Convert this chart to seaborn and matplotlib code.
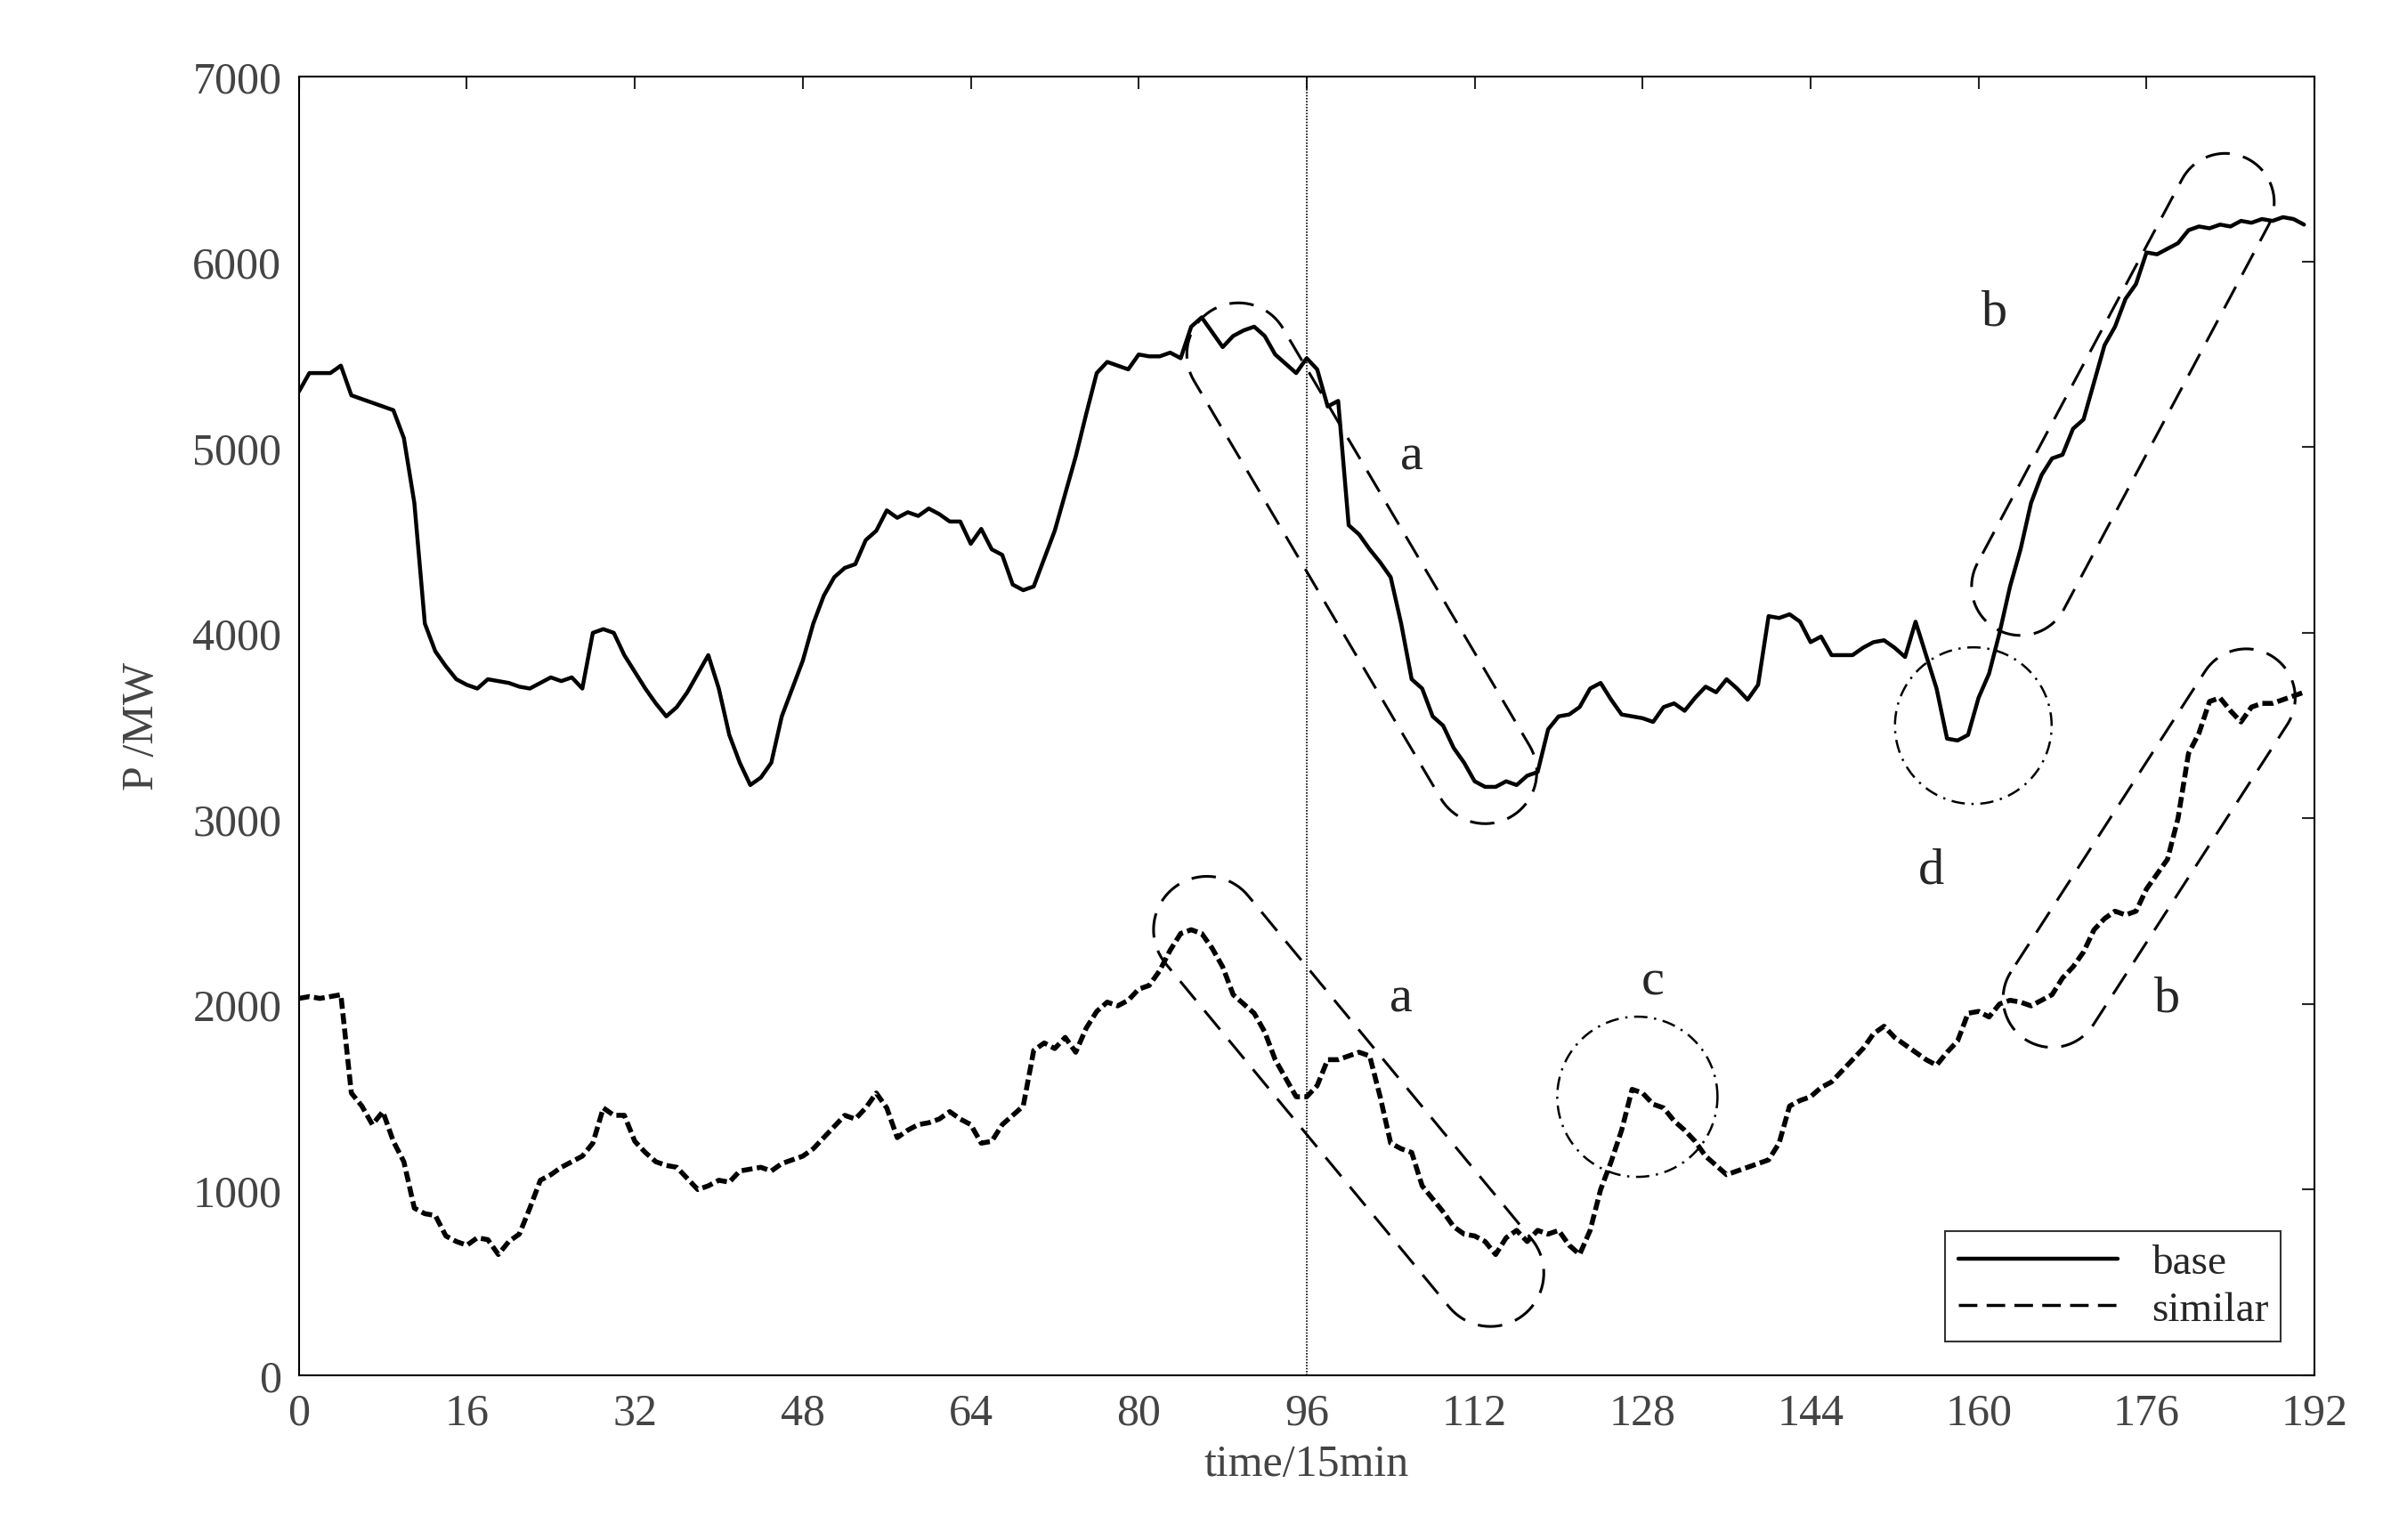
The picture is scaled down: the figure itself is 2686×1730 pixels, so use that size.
import numpy as np
import pandas as pd
import seaborn as sns
import matplotlib
matplotlib.use("Agg")
import matplotlib.pyplot as plt
from matplotlib.lines import Line2D

sns.set_style("white")
plt.rcParams['font.family'] = ['Liberation Serif', 'DejaVu Serif']

steps = list(range(192))
base = [5300, 5400, 5400, 5400, 5440, 5280, 5260, 5240, 5220, 5200, 5050, 4700, 4050, 3900, 3820, 3750,
        3720, 3700, 3750, 3740, 3730, 3710, 3700, 3730, 3760, 3740, 3760, 3700, 4000, 4020, 4000, 3880,
        3790, 3700, 3620, 3550, 3600, 3680, 3780, 3880, 3700, 3450, 3300, 3180, 3220, 3300, 3550, 3700,
        3850, 4050, 4200, 4300, 4350, 4370, 4500, 4550, 4660, 4620, 4650, 4630, 4670, 4640, 4600, 4600,
        4480, 4560, 4450, 4420, 4260, 4230, 4250, 4400, 4550, 4750, 4950, 5180, 5400, 5460, 5440, 5420,
        5500, 5490, 5490, 5510, 5480, 5650, 5700, 5620, 5540, 5600, 5630, 5650, 5600, 5500, 5450, 5400,
        5480, 5420, 5220, 5250, 4580, 4530, 4450, 4380, 4300, 4050, 3750, 3700, 3550, 3500, 3380, 3300,
        3200, 3170, 3170, 3200, 3180, 3230, 3250, 3480, 3550, 3560, 3600, 3700, 3730, 3640, 3560, 3550,
        3540, 3520, 3600, 3620, 3580, 3650, 3710, 3680, 3750, 3700, 3640, 3720, 4090, 4080, 4100, 4060,
        3950, 3980, 3880, 3880, 3880, 3920, 3950, 3960, 3920, 3870, 4060, 3880, 3700, 3430, 3420, 3450,
        3650, 3780, 4000, 4250, 4450, 4700, 4850, 4940, 4960, 5100, 5150, 5350, 5550, 5650, 5800, 5880,
        6050, 6040, 6070, 6100, 6170, 6190, 6180, 6200, 6190, 6220, 6210, 6230, 6220, 6240, 6230, 6200]
similar = [2030, 2040, 2030, 2040, 2050, 1520, 1450, 1350, 1420, 1260, 1150, 900, 870, 860, 750, 720,
           700, 740, 730, 650, 720, 760, 900, 1050, 1080, 1120, 1150, 1180, 1250, 1440, 1400, 1400,
           1260, 1200, 1150, 1130, 1120, 1060, 1000, 1020, 1050, 1040, 1100, 1110, 1120, 1100, 1140, 1160,
           1180, 1220, 1280, 1340, 1400, 1380, 1440, 1520, 1440, 1280, 1320, 1350, 1360, 1380, 1420, 1380,
           1350, 1250, 1260, 1350, 1400, 1450, 1750, 1790, 1760, 1820, 1740, 1870, 1960, 2010, 1990, 2020,
           2080, 2100, 2180, 2290, 2380, 2400, 2380, 2300, 2200, 2050, 2000, 1950, 1850, 1700, 1600, 1500,
           1500, 1560, 1700, 1700, 1720, 1740, 1720, 1500, 1250, 1220, 1200, 1020, 950, 880, 800, 760,
           750, 720, 650, 740, 780, 720, 780, 760, 780, 700, 650, 780, 1000, 1150, 1320, 1540,
           1520, 1460, 1440, 1370, 1320, 1260, 1180, 1130, 1080, 1100, 1120, 1140, 1160, 1250, 1450, 1480,
           1500, 1550, 1580, 1640, 1700, 1760, 1840, 1880, 1820, 1780, 1740, 1700, 1670, 1740, 1800, 1950,
           1960, 1930, 2000, 2020, 2010, 1990, 2020, 2050, 2140, 2200, 2280, 2400, 2460, 2500, 2480, 2500,
           2620, 2700, 2780, 3000, 3350, 3460, 3630, 3650, 3580, 3520, 3600, 3620, 3620, 3640, 3660, 3680]

xticks = list(range(0, 193, 16))
yticks = list(range(0, 7001, 1000))

df = pd.DataFrame({"t": steps, "base": base, "similar": similar})

DPI = 100
fig = plt.figure(figsize=(26.86, 17.31), dpi=DPI)
ax = fig.add_axes([0.125, 0.107, 0.843, 0.843])
sns.lineplot(data=df, x="t", y="base", ax=ax, color="black", lw=3.2)
sns.lineplot(data=df, x="t", y="similar", ax=ax, color="black", lw=4, linestyle=(0, (2.2, 0.9)))
ax.set_xlim(0, 192)
ax.set_ylim(0, 7000)
ax.set_xticks(xticks)
ax.set_yticks(yticks)
ax.tick_params(direction="in", length=10, width=1.5, labelsize=36, labelcolor="#444444",
               top=True, right=True, pad=14)
for s in ax.spines.values():
    s.set_linewidth(1.5)
    s.set_color("black")
ax.set_xlabel("time/15min", fontsize=36, color="#444444", labelpad=8)
ax.set_ylabel("P /MW", fontsize=36, color="#444444", labelpad=24)
ax.axvline(96, color="black", lw=1.2, linestyle=(0, (1, 1)))

fig.canvas.draw()
T = ax.transData
Ti = T.inverted()


def capsule(p1, p2, r, **kw):
    a = np.array(T.transform(p1)); b = np.array(T.transform(p2))
    d = b - a
    ang = np.arctan2(d[1], d[0])
    th1 = np.linspace(ang + np.pi / 2, ang + 3 * np.pi / 2, 40)
    th2 = np.linspace(ang - np.pi / 2, ang + np.pi / 2, 40)
    pts = np.vstack([a + r * np.c_[np.cos(th1), np.sin(th1)],
                     b + r * np.c_[np.cos(th2), np.sin(th2)]])
    pts = np.vstack([pts, pts[:1]])
    dp = Ti.transform(pts)
    ax.plot(dp[:, 0], dp[:, 1], color="black", lw=2.2, linestyle=(0, (9, 5)), **kw)


def circle(c, r):
    cc = np.array(T.transform(c))
    th = np.linspace(0, 2 * np.pi, 200)
    dp = Ti.transform(cc + r * np.c_[np.cos(th), np.sin(th)])
    ax.plot(dp[:, 0], dp[:, 1], color="black", lw=1.8, linestyle=(0, (6, 3, 1, 3)))


capsule((89.5, 5500), (113, 3250), 58)
capsule((164, 4250), (183.5, 6320), 55)
capsule((86.5, 2400), (113.5, 550), 60)
capsule((167, 2030), (185.5, 3650), 55)
circle((159.5, 3500), 88)
circle((127.5, 1500), 90)

for x, y, s in [(106, 4950, "a"), (161.5, 5730, "b"), (155.5, 2720, "d"),
                (105, 2030, "a"), (129, 2120, "c"), (178, 2030, "b")]:
    ax.text(x, y, s, fontsize=42, ha="center", va="center")

handles = [Line2D([], [], color="black", lw=3.2),
           Line2D([], [], color="black", lw=2.5, linestyle=(0, (6, 3)))]
leg = ax.legend(handles, ["base", "similar"], loc="lower right", fontsize=34, frameon=True,
                fancybox=False, edgecolor="black", handlelength=3.8, borderaxespad=0.8,
                labelspacing=0.2, borderpad=0.3)
leg.get_frame().set_linewidth(1.5)

fig.savefig("out.png", dpi=DPI)
